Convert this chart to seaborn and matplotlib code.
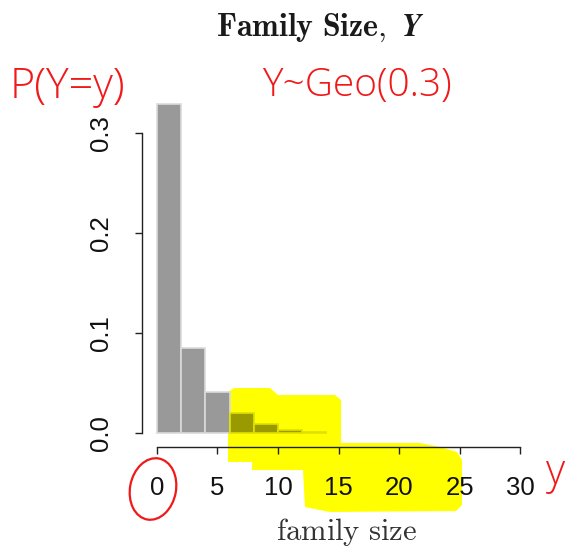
import matplotlib
matplotlib.use('Agg')
import matplotlib.pyplot as plt
import seaborn as sns
import numpy as np
from matplotlib.patches import Polygon, Ellipse

# family size bins (width 2) and their probabilities
bin_edges = [0, 2, 4, 6, 8, 10, 12, 14]
family_size = [1, 3, 5, 7, 9, 11, 13]
prob = [0.329, 0.085, 0.041, 0.020, 0.009, 0.0035, 0.0013]
x_ticks = [0, 5, 10, 15, 20, 25, 30]
y_ticks = [0.0, 0.1, 0.2, 0.3]

W, H = 571, 548

sns.set_style('white')
plt.rcParams['font.family'] = ['Liberation Sans', 'DejaVu Sans']
plt.rcParams['mathtext.fontset'] = 'cm'

fig = plt.figure(figsize=(W / 100, H / 100), dpi=100)


def px(x, y):
    # bildpunkt -> figuuri koordinaadid
    return x / W, 1 - y / H


# kollane markeri ala (joonistatakse kõige alla)
hl = [(228, 392), (234, 388), (270, 388), (278, 395), (335, 395), (341, 400), (341, 443),
      (420, 443), (440, 447), (457, 452), (462, 460), (462, 505), (456, 511), (330, 512),
      (305, 507), (303, 470), (252, 470), (252, 462), (228, 462)]
fig.patches.append(Polygon([px(*p) for p in hl], closed=True, transform=fig.transFigure,
                           facecolor='#ffff00', edgecolor='none', zorder=-5))

ax = fig.add_axes([141.7 / W, (H - 447) / H, (525 - 141.7) / W, (447 - 100) / H])
ax.patch.set_alpha(0)

sns.histplot(x=family_size, weights=prob, bins=bin_edges, ax=ax, color='#999999',
             edgecolor='#dadada', linewidth=1.2, alpha=1)

# tulbad markeri all
for patch in ax.patches:
    if patch.get_x() >= 6:
        patch.set_facecolor('#999900')
        patch.set_edgecolor('#e0e000')
    patch.set_clip_on(False)

ax.set_xlim(-1.26, 30.4)
ax.set_ylim(-0.0137, 0.3333)
ax.set_xticks(x_ticks)
ax.set_yticks(y_ticks)
ax.set_yticklabels(['0.0', '0.1', '0.2', '0.3'])
ax.set_xlabel('')
ax.set_ylabel('')
sns.despine(ax=ax)
ax.spines['left'].set_bounds(0, 0.3)
ax.spines['bottom'].set_bounds(0, 30)
for s in ['left', 'bottom']:
    ax.spines[s].set_color('#222222')
    ax.spines[s].set_linewidth(1)
ax.tick_params(axis='both', length=5, width=1, color='#222222', labelsize=18.5, pad=16,
               direction='out', left=True, bottom=True, labelcolor='#111111')
ax.tick_params(axis='y', labelrotation=90)
for lab in ax.get_yticklabels():
    lab.set_va('center')

# pealkiri ja telje silt
fig.text(*px(320, 36), r'$\mathbf{Family\ Size,\ }\boldsymbol{Y}$', ha='center', va='baseline',
         fontsize=23, color='#1a1a1a')
fig.text(*px(346, 540), r'$\mathrm{family\ size}$', ha='center', va='baseline',
         fontsize=22, color='#333333')

# punased käsitsi märkused
red = '#f01818'
fig.text(*px(10, 98), 'P(Y=y)', fontsize=31, color=red, family='Open Sans', weight='light',
         ha='left', va='baseline')
fig.text(*px(262, 96), 'Y~Geo(0.3)', fontsize=28, color=red, family='Open Sans', weight='light',
         ha='left', va='baseline')
fig.text(*px(546, 484), 'y', fontsize=30, color=red, family='Open Sans', weight='light',
         ha='left', va='baseline')
fig.patches.append(Ellipse(px(153, 489), 46 / W, 62 / H, angle=-10, transform=fig.transFigure,
                           facecolor='none', edgecolor=red, linewidth=1.6, zorder=5))

fig.savefig('out.png', dpi=100)
